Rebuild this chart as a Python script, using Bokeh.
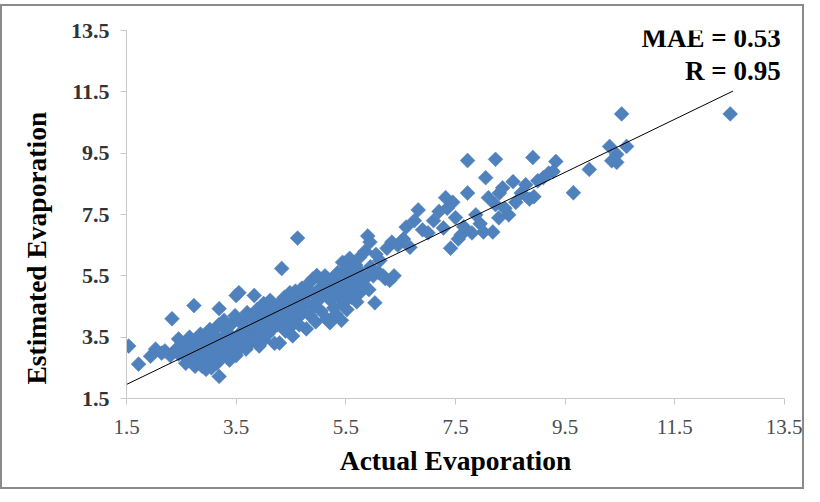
import math
from bokeh.plotting import figure
from bokeh.layouts import column
from bokeh.models import Label, FixedTicker, ColumnDataSource, Title, Spacer
from bokeh.embed import file_html
from bokeh.resources import INLINE

# ---- data ----
actual = [
    1.54, 1.72, 1.94, 2.03, 2.14, 2.20, 2.30, 2.33, 2.40, 2.45, 2.45, 2.50,
    2.55, 2.58, 2.60, 2.62, 2.65, 2.70, 2.72, 2.73, 2.75, 2.78, 2.80, 2.82, 2.85, 2.88, 2.90, 2.92, 2.95, 2.97, 3.00, 3.00,
    3.02, 3.05, 3.08, 3.10, 3.12, 3.15, 3.18, 3.19, 3.19, 3.20, 3.22, 3.25, 3.28, 3.30, 3.32, 3.35, 3.38, 3.40, 3.42, 3.45, 3.48, 3.50, 3.50, 3.50,
    3.55, 3.55, 3.58, 3.60, 3.62, 3.65, 3.68, 3.70, 3.72, 3.75, 3.78, 3.80, 3.83, 3.85, 3.88, 3.90, 3.92, 3.95, 3.98, 4.00, 4.00,
    4.02, 4.05, 4.08, 4.10, 4.12, 4.15, 4.18, 4.20, 4.22, 4.25, 4.28, 4.29, 4.30, 4.33, 4.35, 4.38, 4.40, 4.42, 4.45, 4.47, 4.48, 4.50, 4.50,
    4.53, 4.55, 4.58, 4.60, 4.62, 4.63, 4.65, 4.68, 4.70, 4.72, 4.75, 4.78, 4.80, 4.82, 4.85, 4.88, 4.90, 4.92, 4.95, 4.97, 5.00, 5.00,
    5.05, 5.08, 5.10, 5.12, 5.15, 5.18, 5.21, 5.22, 5.25, 5.28, 5.30, 5.32, 5.35, 5.38, 5.40, 5.42, 5.44, 5.45, 5.48, 5.50, 5.50,
    5.52, 5.55, 5.57, 5.60, 5.62, 5.65, 5.68, 5.70, 5.72, 5.75, 5.76, 5.78, 5.80, 5.85, 5.88, 5.90, 5.92, 5.94, 5.95, 6.00, 6.03,
    6.05, 6.10, 6.12, 6.18, 6.22, 6.25, 6.30, 6.34, 6.38, 6.45,
    6.55, 6.60, 6.67, 6.75, 6.82, 6.90, 7.00, 7.10, 7.20, 7.28, 7.32, 7.35, 7.41, 7.45, 7.50, 7.55, 7.60, 7.65,
    7.72, 7.72, 7.80, 7.87, 7.95, 8.01, 8.05, 8.10, 8.18, 8.23, 8.23, 8.29, 8.30, 8.36, 8.47, 8.55, 8.60, 8.40,
    8.70, 8.78, 8.85, 8.91, 8.93, 9.00, 9.10, 9.20, 9.28, 9.33,
    9.65, 9.94, 10.31, 10.35, 10.44, 10.44, 10.53, 10.62, 12.51,
]
estimated = [
    3.21, 2.62, 2.88, 3.11, 2.98, 3.05, 2.90, 4.10, 3.10, 3.44, 2.95, 3.20,
    2.90, 2.65, 3.30, 3.05, 3.50, 2.80, 3.15, 4.53, 2.55, 3.35, 2.70, 3.00, 3.60, 2.55, 2.85, 3.20, 2.45, 3.40, 2.70, 3.05,
    3.75, 2.50, 2.90, 3.30, 3.55, 2.65, 3.90, 2.22, 4.43, 3.10, 2.80, 3.45, 4.05, 2.95, 3.70, 3.20, 2.75, 3.90, 3.50, 3.00, 4.20, 4.86, 3.30, 2.90,
    4.95, 3.60, 3.15, 4.00, 3.40, 3.85, 3.11, 4.30, 3.60, 3.30, 4.10, 3.75, 4.86, 3.50, 4.40, 3.95, 3.21, 3.65, 4.20, 3.40, 4.60,
    3.85, 4.30, 3.60, 4.05, 4.70, 3.75, 4.45, 3.30, 4.15, 3.90, 4.60, 3.31, 4.30, 5.74, 4.00, 4.80, 3.70, 4.50, 4.20, 4.10, 4.95, 3.85, 4.65,
    3.54, 4.40, 5.00, 4.10, 6.73, 4.75, 3.90, 4.55, 5.10, 4.30, 4.85, 3.77, 4.60, 5.25, 4.20, 4.95, 5.40, 4.50, 4.00, 5.51, 5.05, 4.70,
    4.35, 5.30, 4.90, 5.50, 4.10, 5.15, 3.97, 4.70, 5.40, 4.45, 5.00, 4.25, 5.60, 4.80, 5.20, 4.05, 5.94, 4.60, 5.35, 4.95, 5.70,
    4.40, 5.15, 6.07, 4.80, 5.50, 5.00, 5.85, 4.65, 5.30, 6.10, 4.95, 5.60, 5.20, 6.30, 5.45, 6.80, 5.05, 6.60, 5.80, 5.50, 4.62,
    6.20, 5.60, 6.00, 5.50, 5.41, 6.40, 5.35, 6.60, 5.50, 6.50,
    6.70, 7.09, 6.43, 7.30, 7.65, 7.00, 6.90, 7.30, 7.60, 7.06, 8.05, 7.70, 6.40, 7.90, 7.40, 6.70, 6.83, 7.10,
    8.20, 9.26, 6.90, 7.49, 7.20, 6.93, 8.70, 8.05, 6.93, 9.30, 7.82, 7.39, 8.20, 8.37, 7.49, 8.57, 7.90, 7.70,
    8.20, 8.47, 8.00, 9.36, 8.08, 8.60, 8.70, 8.85, 8.90, 9.23,
    8.21, 8.97, 9.72, 9.25, 9.46, 9.20, 10.78, 9.72, 10.78,
]
tick_values = [1.5, 3.5, 5.5, 7.5, 9.5, 11.5, 13.5]
trend_slope = 0.865
trend_intercept = 0.66
trend_x = [1.5, 12.56]
trend_y = [trend_intercept + trend_slope * v for v in trend_x]
stats_lines = ["MAE = 0.53", "R = 0.95"]
x_title = "Actual Evaporation"
y_title = "Estimated Evaporation"

SERIF = "Liberation Serif"

p = figure(
    frame_width=654, frame_height=364,
    x_range=(1.5, 13.5), y_range=(1.5, 13.5),
    output_backend="svg", toolbar_location=None,
    min_border_left=124, min_border_right=22,
    min_border_top=24, min_border_bottom=93,
)
p.styles = {"border": "2px solid #8a8a8a"}
p.outline_line_color = None
p.grid.visible = False
p.background_fill_color = "white"
p.border_fill_color = "white"

src = ColumnDataSource(dict(x=actual, y=estimated))
p.scatter("x", "y", source=src, marker="square", angle=math.pi / 4,
          size=10.5, fill_color="#4F81BD", line_color="#4F81BD", line_width=0.5)

p.line(trend_x, trend_y, line_color="black", line_width=1)

for ax in (p.xaxis[0], p.yaxis[0]):
    ax.ticker = FixedTicker(ticks=tick_values)
    ax.axis_line_color = "#c8c8c8"
    ax.major_tick_line_color = "#c8c8c8"
    ax.major_tick_in = 0
    ax.major_tick_out = 6
    ax.minor_tick_line_color = None
    ax.major_label_text_font = SERIF
    ax.major_label_text_font_size = "21px"

p.xaxis.major_label_standoff = 15
p.xaxis.major_label_text_color = "#4d4d4d"
p.yaxis.major_label_standoff = 11
p.yaxis.major_label_text_color = "#333333"
p.yaxis.major_label_text_font_style = "bold"
p.yaxis.major_label_text_font_size = "22px"

p.xaxis.axis_label = x_title
p.xaxis.axis_label_text_font = SERIF
p.xaxis.axis_label_text_font_size = "27.5px"
p.xaxis.axis_label_text_font_style = "bold"
p.xaxis.axis_label_text_color = "black"
p.xaxis.axis_label_standoff = 8

p.add_layout(Title(text=y_title, align="left", offset=14, standoff=31,
                   text_font=SERIF, text_font_size="27.5px",
                   text_font_style="bold", text_color="black"), "left")

p.add_layout(Label(x=13.43, y=13.24, text=stats_lines[0],
                   text_align="right", text_baseline="middle",
                   text_font=SERIF, text_font_size="27px",
                   text_font_style="bold", text_color="black"))
p.add_layout(Label(x=13.43, y=12.19, text=stats_lines[1],
                   text_align="right", text_baseline="middle",
                   text_font=SERIF, text_font_size="27px",
                   text_font_style="bold", text_color="black"))

layout = column(Spacer(height=4, width=10), p, spacing=0)
open("out.html", "w").write(file_html(layout, INLINE))
